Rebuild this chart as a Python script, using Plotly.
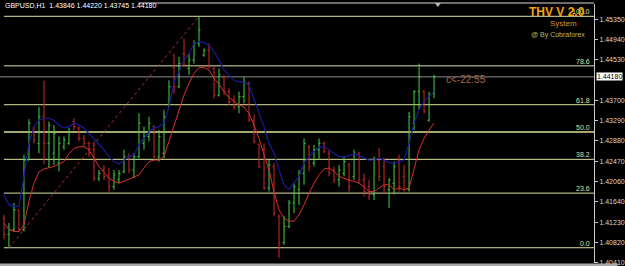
import plotly.graph_objects as go

# ---------------- data ----------------
bars = list(range(1, 88))

opens = [1.4131, 1.4098, 1.4108, 1.4148, 1.4108, 1.4249, 1.4314, 1.4283, 1.4337, 1.4283,
         1.4263, 1.4243, 1.4276, 1.4283, 1.4327, 1.4314, 1.4293, 1.4283, 1.4270, 1.4212,
         1.4229, 1.4219, 1.4195, 1.4209, 1.4226, 1.4256, 1.4229, 1.4256, 1.4283, 1.4297,
         1.4317, 1.4256, 1.4263, 1.4361, 1.4438, 1.4398, 1.4465, 1.4435, 1.4452, 1.4486,
         1.4462, 1.4472, 1.4435, 1.4381, 1.4418, 1.4388, 1.4371, 1.4357, 1.4378, 1.4405,
         1.4330, 1.4280, 1.4270, 1.4192, 1.4236, 1.4135, 1.4081, 1.4114, 1.4162, 1.4189,
         1.4222, 1.4276, 1.4243, 1.4270, 1.4283, 1.4263, 1.4229, 1.4209, 1.4222, 1.4239,
         1.4216, 1.4263, 1.4209, 1.4195, 1.4179, 1.4249, 1.4236, 1.4189, 1.4202, 1.4249,
         1.4216, 1.4189, 1.4324, 1.4388, 1.4388, 1.4330, 1.43846]

highs = [1.4138, 1.4121, 1.4162, 1.4148, 1.4260, 1.4332, 1.4317, 1.4357, 1.4410, 1.4327,
         1.4320, 1.4297, 1.4297, 1.4314, 1.4334, 1.4317, 1.4300, 1.4287, 1.4287, 1.4229,
         1.4239, 1.4233, 1.4229, 1.4229, 1.4270, 1.4263, 1.4263, 1.4344, 1.4317, 1.4337,
         1.4320, 1.4310, 1.4351, 1.4411, 1.4465, 1.4459, 1.4496, 1.4465, 1.4492, 1.4541,
         1.4476, 1.4486, 1.4438, 1.4435, 1.4422, 1.4395, 1.4381, 1.4388, 1.4418, 1.4408,
         1.4341, 1.4283, 1.4283, 1.4249, 1.4243, 1.4138, 1.4135, 1.4168, 1.4202, 1.4229,
         1.4293, 1.4280, 1.4280, 1.4293, 1.4287, 1.4270, 1.4236, 1.4239, 1.4256, 1.4243,
         1.4270, 1.4266, 1.4222, 1.4209, 1.4256, 1.4273, 1.4253, 1.4212, 1.4246, 1.4260,
         1.4239, 1.4347, 1.4391, 1.4445, 1.4391, 1.4388, 1.44220]

lows = [1.4088, 1.4071, 1.4104, 1.4102, 1.4104, 1.4249, 1.4283, 1.4263, 1.4241, 1.4233,
        1.4239, 1.4226, 1.4270, 1.4280, 1.4310, 1.4287, 1.4276, 1.4256, 1.4206, 1.4206,
        1.4209, 1.4185, 1.4189, 1.4202, 1.4222, 1.4222, 1.4212, 1.4253, 1.4270, 1.4287,
        1.4253, 1.4246, 1.4253, 1.4357, 1.4384, 1.4395, 1.4438, 1.4422, 1.4445, 1.4479,
        1.4459, 1.4435, 1.4374, 1.4378, 1.4381, 1.4361, 1.4351, 1.4344, 1.4364, 1.4327,
        1.4283, 1.4233, 1.4189, 1.4185, 1.4135, 1.4050, 1.4077, 1.4111, 1.4141, 1.4158,
        1.4199, 1.4226, 1.4236, 1.4249, 1.4263, 1.4216, 1.4202, 1.4195, 1.4216, 1.4185,
        1.4209, 1.4202, 1.4175, 1.4168, 1.4168, 1.4206, 1.4182, 1.4152, 1.4179, 1.4185,
        1.4185, 1.4185, 1.4310, 1.4351, 1.4344, 1.4327, 1.43745]

closes = [1.4098, 1.4108, 1.4148, 1.4108, 1.4249, 1.4324, 1.4290, 1.4337, 1.4283, 1.4320,
          1.4303, 1.4283, 1.4290, 1.4307, 1.4317, 1.4293, 1.4283, 1.4263, 1.4212, 1.4222,
          1.4216, 1.4195, 1.4219, 1.4222, 1.4256, 1.4229, 1.4256, 1.4324, 1.4297, 1.4324,
          1.4256, 1.4297, 1.4337, 1.4398, 1.4398, 1.4445, 1.4442, 1.4452, 1.4486, 1.4513,
          1.4472, 1.4438, 1.4381, 1.4422, 1.4388, 1.4368, 1.4357, 1.4378, 1.4408, 1.4330,
          1.4287, 1.4236, 1.4192, 1.4239, 1.4141, 1.4081, 1.4114, 1.4162, 1.4195, 1.4222,
          1.4283, 1.4236, 1.4270, 1.4283, 1.4266, 1.4222, 1.4209, 1.4229, 1.4246, 1.4195,
          1.4263, 1.4209, 1.4185, 1.4179, 1.4249, 1.4216, 1.4195, 1.4209, 1.4236, 1.4195,
          1.4189, 1.4337, 1.4388, 1.4418, 1.4347, 1.4381, 1.44180]

ma_blue = [1.4179, 1.4158, 1.4155, 1.4155, 1.4216, 1.4283, 1.4317, 1.4330, 1.4334, 1.4334,
           1.4330, 1.4320, 1.4314, 1.4317, 1.4324, 1.4320, 1.4314, 1.4303, 1.4293, 1.4280,
           1.4270, 1.4256, 1.4246, 1.4241, 1.4249, 1.4256, 1.4260, 1.4280, 1.4293, 1.4307,
           1.4314, 1.4317, 1.4324, 1.4357, 1.4408, 1.4428, 1.4452, 1.4465, 1.4486, 1.4489,
           1.4488, 1.4482, 1.4469, 1.4452, 1.4432, 1.4422, 1.4411, 1.4408, 1.4408, 1.4401,
           1.4374, 1.4347, 1.4317, 1.4283, 1.4263, 1.4229, 1.4199, 1.4189, 1.4202, 1.4216,
           1.4243, 1.4256, 1.4266, 1.4276, 1.4276, 1.4270, 1.4262, 1.4256, 1.4256, 1.4258,
           1.4262, 1.4258, 1.4253, 1.4249, 1.4249, 1.4253, 1.4249, 1.4244, 1.4243, 1.4246,
           1.4249, 1.4283, 1.4324, 1.4351, 1.4368, 1.4379, 1.4388]

ma_red = [1.4121, 1.4108, 1.4104, 1.4104, 1.4118, 1.4165, 1.4202, 1.4225, 1.4231, 1.4233,
          1.4236, 1.4241, 1.4246, 1.4262, 1.4273, 1.4276, 1.4276, 1.4270, 1.4253, 1.4236,
          1.4224, 1.4212, 1.4206, 1.4202, 1.4206, 1.4210, 1.4214, 1.4219, 1.4233, 1.4246,
          1.4249, 1.4249, 1.4256, 1.4287, 1.4320, 1.4351, 1.4381, 1.4405, 1.4425, 1.4437,
          1.4437, 1.4432, 1.4415, 1.4403, 1.4388, 1.4376, 1.4368, 1.4361, 1.4357, 1.4344,
          1.4320, 1.4293, 1.4260, 1.4229, 1.4185, 1.4148, 1.4131, 1.4125, 1.4125, 1.4138,
          1.4158, 1.4182, 1.4202, 1.4219, 1.4231, 1.4233, 1.4226, 1.4216, 1.4212, 1.4208,
          1.4206, 1.4202, 1.4195, 1.4185, 1.4185, 1.4192, 1.4199, 1.4199, 1.4189, 1.4192,
          1.4189, 1.4192, 1.4233, 1.4270, 1.4293, 1.4310, 1.4324]

fib_low = 1.4071
fib_high = 1.4541
fib_ratios = [0.0, 0.236, 0.382, 0.5, 0.618, 0.786, 1.0]
fib_labels = ["0.0", "23.6", "38.2", "50.0", "61.8", "78.6", "100.0"]
trend_bars = [2, 40]
trend_prices = [fib_low, fib_high]

y_ticks = [1.45350, 1.44940, 1.44530, 1.43700, 1.43290, 1.42880,
           1.42470, 1.42060, 1.41640, 1.41230, 1.40820, 1.40410]
y_tick_labels = ["1.45350", "1.44940", "1.44530", "1.43700", "1.43290", "1.42880",
                 "1.42470", "1.42060", "1.41640", "1.41230", "1.40820", "1.40410"]
current_price = 1.44180
title_text = "GBPUSD,H1  1.43846 1.44220 1.43745 1.44180"

# ---------------- layout geometry ----------------
W, H = 625, 266
ML, MR, MT, MB = 0, 24, 4, 3
PW = W - ML - MR
PH = H - MT - MB
X_RANGE = [0.21, 118.98]
Y_RANGE = [1.4040, 1.4566]


def px_x(p):
    return p / PW


def px_y(p):
    return (H - MB - p) / PH


fig = go.Figure()

# trend (fibo base) dotted line
fig.add_trace(go.Scatter(x=trend_bars, y=trend_prices, mode="lines",
                         line=dict(color="#b03030", width=1, dash="dot"),
                         hoverinfo="skip", showlegend=False))

fig.add_trace(go.Ohlc(x=bars, open=opens, high=highs, low=lows, close=closes,
                      increasing=dict(line=dict(color="#44d444", width=1)),
                      decreasing=dict(line=dict(color="#d42a2a", width=1)),
                      tickwidth=0.3, showlegend=False))

fig.add_trace(go.Scatter(x=bars, y=ma_blue, mode="lines",
                         line=dict(color="#1a1a9c", width=1.2),
                         hoverinfo="skip", showlegend=False))
fig.add_trace(go.Scatter(x=bars, y=ma_red, mode="lines",
                         line=dict(color="#d83030", width=1),
                         hoverinfo="skip", showlegend=False))

shapes = []
annotations = []

# fib levels
for r, lab in zip(fib_ratios, fib_labels):
    lvl = fib_low + r * (fib_high - fib_low)
    if lab == "50.0":
        col, wd = "#a6a872", 2
    else:
        col, wd = "#dde2a4", 1
    shapes.append(dict(type="line", xref="x", yref="y", x0=1, x1=X_RANGE[1],
                       y0=lvl, y1=lvl, line=dict(color=col, width=wd), layer="below"))
    annotations.append(dict(xref="paper", yref="y", x=px_x(599), y=lvl,
                            xanchor="right", yanchor="bottom", text=lab,
                            showarrow=False, yshift=-1,
                            font=dict(family="Liberation Sans", size=7, color="#dde2a4")))

# current price line
shapes.append(dict(type="line", xref="paper", yref="y", x0=0, x1=1,
                   y0=current_price, y1=current_price,
                   line=dict(color="#8a8a8a", width=1), layer="below"))

# top border line and bottom band
shapes.append(dict(type="line", xref="paper", yref="paper", x0=px_x(140), x1=1,
                   y0=px_y(3), y1=px_y(3), line=dict(color="#d8d8d8", width=1)))
shapes.append(dict(type="rect", xref="paper", yref="paper", x0=0, x1=W / PW,
                   y0=px_y(266), y1=px_y(263.5), line=dict(width=0),
                   fillcolor="#a8a8a8"))
# shift marker
shapes.append(dict(type="path", xref="paper", yref="paper",
                   path=f"M {px_x(440)} {px_y(3)} L {px_x(446)} {px_y(3)} L {px_x(443)} {px_y(7)} Z",
                   fillcolor="#bcbcbc", line=dict(width=0)))

# title
annotations.append(dict(xref="paper", yref="paper", x=px_x(3), y=px_y(5.5),
                        xanchor="left", yanchor="middle", text=title_text,
                        showarrow=False,
                        font=dict(family="Liberation Sans", size=7, color="#ffffff")))
# indicator texts
annotations.append(dict(xref="paper", yref="paper", x=px_x(564), y=px_y(12),
                        xanchor="center", yanchor="middle", text="<b>THV V 2.0</b>",
                        showarrow=False,
                        font=dict(family="Liberation Sans", size=12, color="#f5a20a")))
annotations.append(dict(xref="paper", yref="paper", x=px_x(570), y=px_y(24),
                        xanchor="center", yanchor="middle", text="System",
                        showarrow=False,
                        font=dict(family="Liberation Sans", size=8, color="#d9932e")))
annotations.append(dict(xref="paper", yref="paper", x=px_x(565), y=px_y(35),
                        xanchor="center", yanchor="middle", text="@ By Cobraforex",
                        showarrow=False,
                        font=dict(family="Liberation Sans", size=7, color="#b8bc5c")))
annotations.append(dict(xref="paper", yref="paper", x=px_x(449), y=px_y(80),
                        xanchor="left", yanchor="middle", text="c<-22:55",
                        showarrow=False,
                        font=dict(family="Liberation Sans", size=10, color="#a8684a")))
# current price box on axis
annotations.append(dict(xref="paper", yref="y", x=px_x(603), y=current_price,
                        xanchor="left", yanchor="middle", text="1.44180",
                        showarrow=False, bgcolor="#ffffff", borderpad=0,
                        font=dict(family="Liberation Sans", size=7, color="#000000")))

fig.update_layout(
    width=W, height=H,
    margin=dict(l=ML, r=MR, t=MT, b=MB),
    paper_bgcolor="#000000", plot_bgcolor="#000000",
    showlegend=False,
    shapes=shapes, annotations=annotations,
    xaxis=dict(range=X_RANGE, visible=False, showgrid=False, zeroline=False,
               rangeslider=dict(visible=False)),
    yaxis=dict(range=Y_RANGE, side="right", showgrid=False, zeroline=False,
               showline=True, linecolor="#c8c8c8", linewidth=1,
               ticks="outside", ticklen=3, tickcolor="#c8c8c8",
               tickvals=y_ticks, ticktext=y_tick_labels,
               tickfont=dict(family="Liberation Sans", size=7, color="#d8d8d8")),
)

fig.write_html("out.html")
